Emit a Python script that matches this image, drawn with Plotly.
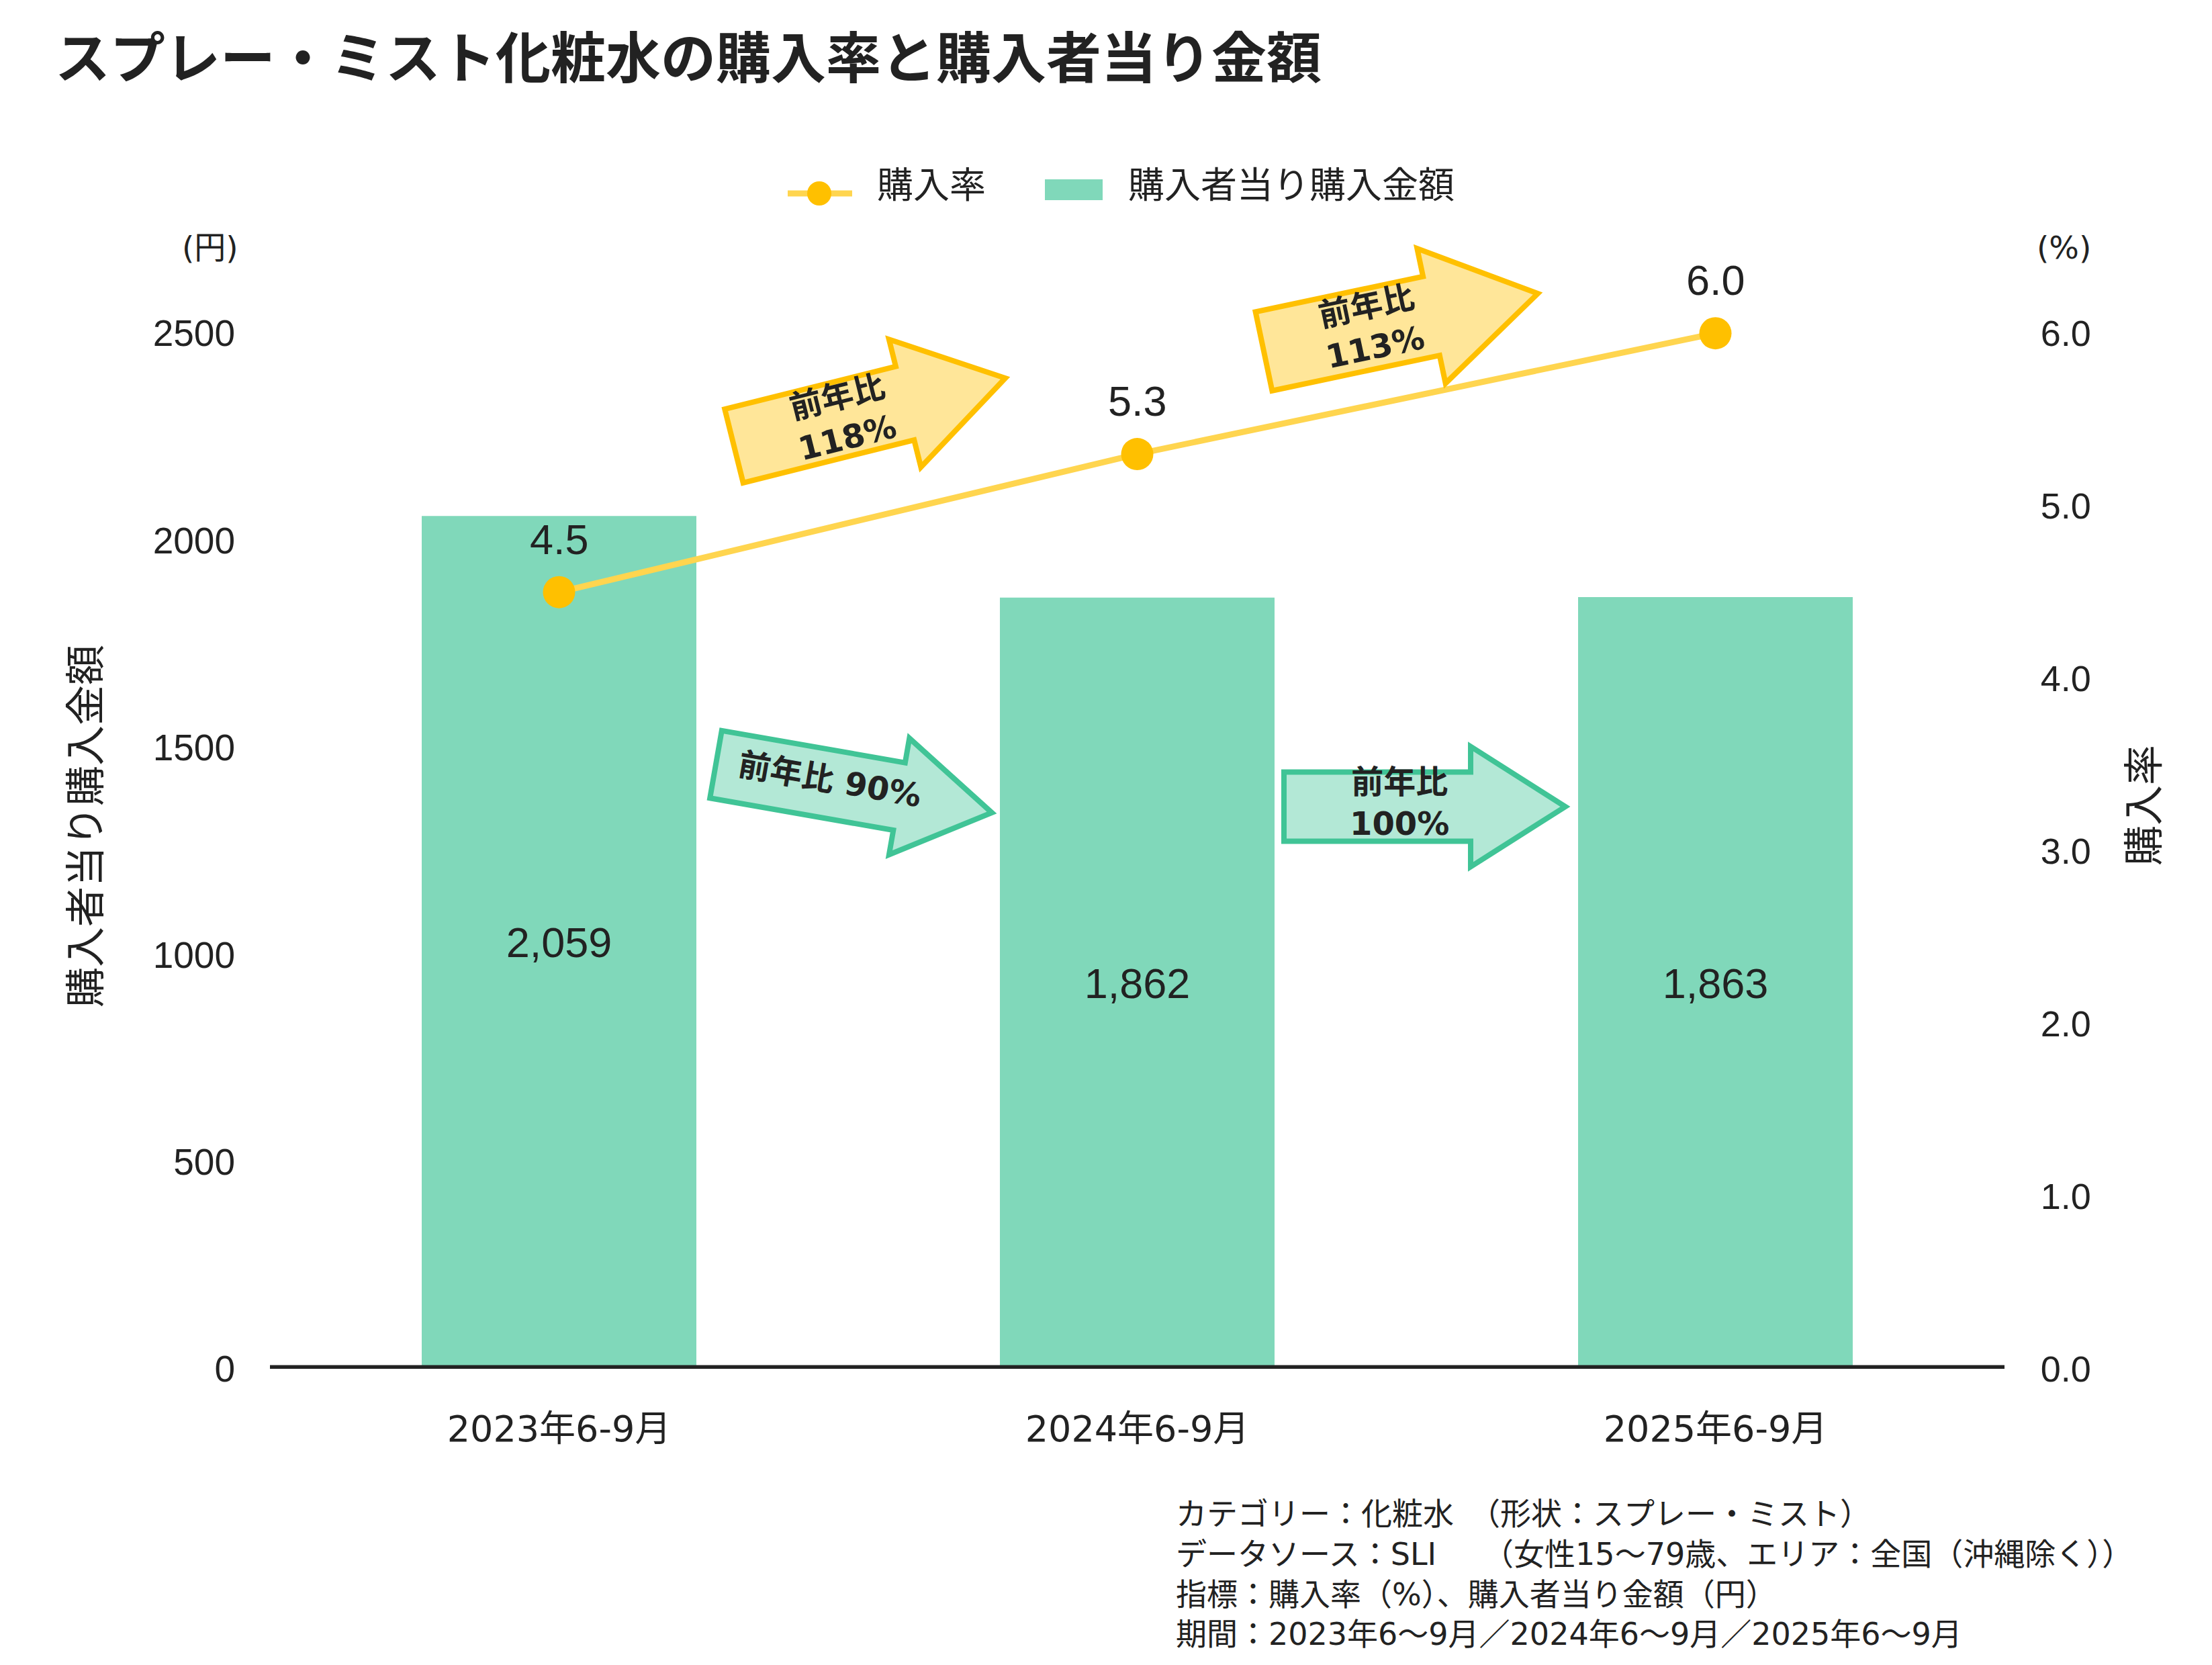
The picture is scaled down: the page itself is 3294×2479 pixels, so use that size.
import math
import plotly.graph_objects as go

# data
periods = ["2023年6-9月", "2024年6-9月", "2025年6-9月"]
spend = [2059, 1862, 1863]          # 購入者当り購入金額 (円)
rate = [4.5, 5.3, 6.0]              # 購入率 (%)
spend_ticks = [0, 500, 1000, 1500, 2000, 2500]
rate_ticks = [0, 1, 2, 3, 4, 5, 6]
yoy_rate = ["前年比<br>118%", "前年比<br>113%"]
yoy_spend = ["前年比 90%", "前年比<br>100%"]

notes = [
    "カテゴリー：化粧水　（形状：スプレー・ミスト）",
    "データソース：SLI　　（女性15〜79歳、エリア：全国（沖縄除く））",
    "指標：購入率（%）、購入者当り金額（円）",
    "期間：2023年6〜9月／2024年6〜9月／2025年6〜9月",
]

W, H = 3294, 2479
L, R, T, B = 394, 2977, 334, 2030   # plot area in pixels

BAR = "#80D8BA"
LINE = "#FFD54F"
MARK = "#FFC000"
TXT = "#222222"
JP = "DejaVu Sans, Noto Sans CJK JP"
NUM = "Liberation Sans, Arial, sans-serif"


def pp(x, y):
    # pixel -> paper
    return (x - L) / (R - L), (B - y) / (B - T)


def arrow_path(tail, tip, shaft, head_w, head_len):
    dx, dy = tip[0] - tail[0], tip[1] - tail[1]
    n = math.hypot(dx, dy)
    ux, uy = dx / n, dy / n
    nx, ny = -uy, ux
    bx, by = tip[0] - ux * head_len, tip[1] - uy * head_len
    pts = [
        (tail[0] + nx * shaft / 2, tail[1] + ny * shaft / 2),
        (bx + nx * shaft / 2, by + ny * shaft / 2),
        (bx + nx * head_w / 2, by + ny * head_w / 2),
        tip,
        (bx - nx * head_w / 2, by - ny * head_w / 2),
        (bx - nx * shaft / 2, by - ny * shaft / 2),
        (tail[0] - nx * shaft / 2, tail[1] - ny * shaft / 2),
    ]
    s = ""
    for i, (x, y) in enumerate(pts):
        px_, py_ = pp(x, y)
        s += ("M" if i == 0 else "L") + f"{px_:.5f},{py_:.5f} "
    return s + "Z"


fig = go.Figure()

fig.add_trace(go.Bar(
    x=periods, y=spend, name="購入者当り購入金額",
    marker=dict(color=BAR, line=dict(width=0)),
    text=[f"{v:,}" for v in spend], textposition="inside",
    insidetextanchor="middle", textangle=0,
    textfont=dict(family=NUM, size=63, color=TXT),
    showlegend=False,
))

fig.add_trace(go.Scatter(
    x=periods, y=rate, name="購入率", yaxis="y2",
    mode="lines+markers",
    line=dict(color=LINE, width=9),
    marker=dict(color=MARK, size=48, line=dict(width=0)),
    showlegend=False,
))

shapes = []
annotations = []

# zero line
shapes.append(dict(type="line", xref="paper", yref="y", x0=0, x1=1, y0=0, y1=0,
                   line=dict(color=TXT, width=11), layer="above"))

# year-on-year arrows
arrows = [
    # tail, tip, shaft, head width, head length, fill, border
    ((1085, 656), (1489, 555), 113, 196, 154, "#FFE699", "#FFC000"),
    ((1874, 515), (2282, 429), 120, 205, 162, "#FFE699", "#FFC000"),
    ((1058, 1130), (1469, 1202), 102, 176, 140, "#B3E8D6", "#40C496"),
    ((1904, 1193), (2323, 1193), 103, 179, 141, "#B3E8D6", "#40C496"),
]
for tail, tip, sw, hw, hl, fill, border in arrows:
    shapes.append(dict(type="path", xref="paper", yref="paper",
                       path=arrow_path(tail, tip, sw, hw, hl),
                       fillcolor=fill, line=dict(color=border, width=8),
                       layer="above"))

arrow_text = [
    (yoy_rate[0], 1246, 613, -14),
    (yoy_rate[1], 2033, 478, -12),
    (yoy_spend[0], 1228, 1153, 10),
    (yoy_spend[1], 2076, 1187, 0),
]
for txt, x, y, ang in arrow_text:
    ax_, ay_ = pp(x, y)
    annotations.append(dict(text=txt, x=ax_, y=ay_, xref="paper", yref="paper",
                            xanchor="center", yanchor="middle", showarrow=False,
                            textangle=ang, align="center",
                            font=dict(family=JP, size=48, color=TXT, weight="bold")))

# line value labels
for p, v in zip(periods, rate):
    annotations.append(dict(text=f"{v:.1f}", x=p, y=v, xref="x", yref="y2",
                            yshift=79, showarrow=False, xanchor="center", yanchor="middle",
                            font=dict(family=NUM, size=63, color=TXT)))

# title, axis units and titles
tx, ty = pp(72, 73)
annotations.append(dict(text="スプレー・ミスト化粧水の購入率と購入者当り金額",
                        x=tx, y=ty, xref="paper", yref="paper",
                        xanchor="left", yanchor="middle", showarrow=False,
                        font=dict(family="Noto Sans CJK JP", size=82, color=TXT, weight="bold")))
for txt, x, y, ang, size in [
    ("(円)", 305, 360, 0, 47),
    ("(%)", 3065, 360, 0, 47),
    ("購入者当り購入金額", 120, 1222, -90, 60),
    ("購入率", 3185, 1191, -90, 60),
]:
    ax_, ay_ = pp(x, y)
    annotations.append(dict(text=txt, x=ax_, y=ay_, xref="paper", yref="paper",
                            xanchor="center", yanchor="middle", showarrow=False,
                            textangle=ang, font=dict(family=JP, size=size, color=TXT)))

# legend (drawn by hand to match the wide patch)
x0, y0 = pp(1165, 280)
x1, _ = pp(1261, 280)
shapes.append(dict(type="line", xref="paper", yref="paper", x0=x0, x1=x1, y0=y0, y1=y0,
                   line=dict(color=LINE, width=9)))
cx0, cy0 = pp(1194, 262)
cx1, cy1 = pp(1230, 298)
shapes.append(dict(type="circle", xref="paper", yref="paper", x0=cx0, y0=cy0, x1=cx1, y1=cy1,
                   fillcolor=MARK, line=dict(width=0)))
rx0, ry0 = pp(1548, 259)
rx1, ry1 = pp(1634, 290)
shapes.append(dict(type="rect", xref="paper", yref="paper", x0=rx0, y0=ry0, x1=rx1, y1=ry1,
                   fillcolor=BAR, line=dict(width=0)))
for txt, x in [("購入率", 1296), ("購入者当り購入金額", 1670)]:
    ax_, ay_ = pp(x, 268)
    annotations.append(dict(text=txt, x=ax_, y=ay_, xref="paper", yref="paper",
                            xanchor="left", yanchor="middle", showarrow=False,
                            font=dict(family=JP, size=54, color=TXT)))

# notes (one block)
nx_, ny_ = pp(1741, 2335)
annotations.append(dict(text="<br>".join(notes), x=nx_, y=ny_, xref="paper", yref="paper",
                        xanchor="left", yanchor="middle", align="left", showarrow=False,
                        font=dict(family=JP, size=46, color=TXT)))

fig.update_layout(
    width=W, height=H,
    margin=dict(l=L, r=W - R, t=T, b=H - B, pad=0),
    paper_bgcolor="white", plot_bgcolor="white",
    bargap=0.525,
    showlegend=False,
    xaxis=dict(type="category", range=[-0.5, 2.5], showgrid=False, showline=False,
               zeroline=False, ticks="outside", ticklen=42, tickcolor="rgba(0,0,0,0)",
               tickfont=dict(family=JP, size=54, color=TXT)),
    yaxis=dict(range=[0, 2750], tickvals=spend_ticks, showgrid=False, zeroline=False,
               showline=False, ticks="outside", ticklen=40, tickcolor="rgba(0,0,0,0)",
               tickfont=dict(family=NUM, size=55, color=TXT)),
    yaxis2=dict(range=[0, 6.6], tickvals=rate_ticks, tickformat=".1f", overlaying="y",
                side="right", showgrid=False, zeroline=False, showline=False,
                ticks="outside", ticklen=42, tickcolor="rgba(0,0,0,0)",
                tickfont=dict(family=NUM, size=54, color=TXT)),
    shapes=shapes,
    annotations=annotations,
)

fig.write_html("out.html")
